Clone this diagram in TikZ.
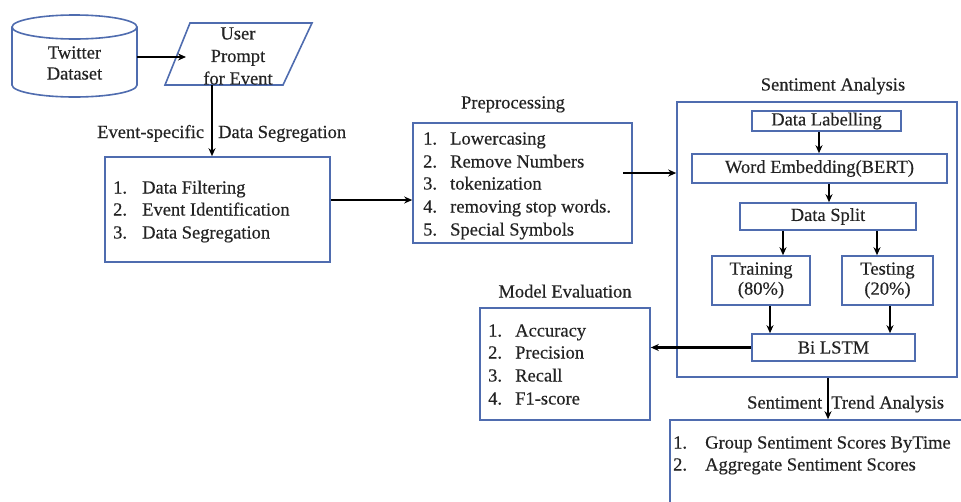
\documentclass[tikz,border=0pt]{standalone}
\usepackage{fontspec}
\setmainfont{Liberation Serif}[FakeBold=0.35]
\usetikzlibrary{arrows.meta}
\definecolor{bb}{RGB}{79,108,175}
\definecolor{tx}{RGB}{35,35,35}
\begin{document}
\begin{tikzpicture}[x=1pt,y=-1pt,
  font=\rmfamily\fontsize{18.5}{22}\selectfont, text=tx,
  box/.style={draw=bb, line width=1.6pt, rectangle, inner sep=0pt},
  arr/.style={draw=black, line width=2.2pt, -{Stealth[length=8pt,width=7pt]}},
  lbl/.style={anchor=base west, inner sep=0pt},
  ttl/.style={anchor=base, inner sep=0pt}]
\useasboundingbox (0,0) rectangle (961,501);

% Twitter dataset cylinder
\draw[bb, line width=1.6pt, fill=white] (12,27) -- (12,85)
  arc[start angle=180, end angle=360, x radius=62.5pt, y radius=12pt] -- (137,27);
\draw[bb, line width=1.6pt] (74.5,27) ellipse[x radius=62.5pt, y radius=12pt];
\node[inner sep=0pt, minimum width=125pt, minimum height=82pt] (tw) at (74.5,57) {};
\node[align=center, inner sep=0pt, font=\rmfamily\fontsize{18.5}{21}\selectfont] (twt) at (74.5,63) {Twitter\\Dataset};

% User prompt parallelogram
\draw[bb, line width=1.6pt] (190,23) -- (312,23) -- (283,85) -- (165,85) -- cycle;
\node[align=center, inner sep=0pt, font=\rmfamily\fontsize{18.5}{22.5}\selectfont] (up) at (238,56) {User\\Prompt\\for Event};
\coordinate (upin) at (186,57);
\coordinate (upbot) at (212,85);

% Event-specific box
\node[lbl] (segl1) at (97,138) {Event-specific};
\node[lbl] (segl2) at (218,138) {Data Segregation};
\node[box, minimum width=225pt, minimum height=105pt] (box1) at (217.5,209.5) {};
\node[lbl] (b1n1) at (113,193.5) {1.}; \node[lbl] (b1t1) at (142,193.5) {Data Filtering};
\node[lbl] (b1n2) at (113,215.5) {2.}; \node[lbl] (b1t2) at (142,215.5) {Event Identification};
\node[lbl] (b1n3) at (113,238.5) {3.}; \node[lbl] (b1t3) at (142,238.5) {Data Segregation};

% Preprocessing
\node[ttl] (pretl) at (513,108.5) {Preprocessing};
\node[box, minimum width=219pt, minimum height=120pt] (pre) at (522.5,183) {};
\node[lbl] (pn1) at (423,144.5) {1.}; \node[lbl] (pt1) at (450,144.5) {Lowercasing};
\node[lbl] (pn2) at (423,167.5) {2.}; \node[lbl] (pt2) at (450,167.5) {Remove Numbers};
\node[lbl] (pn3) at (423,189.5) {3.}; \node[lbl] (pt3) at (450,189.5) {tokenization};
\node[lbl] (pn4) at (423,212.5) {4.}; \node[lbl] (pt4) at (450,212.5) {removing stop words.};
\node[lbl] (pn5) at (423,235.5) {5.}; \node[lbl] (pt5) at (450,235.5) {Special Symbols};

% Sentiment analysis
\node[ttl] (satl) at (833,90.5) {Sentiment Analysis};
\node[box, minimum width=280pt, minimum height=275pt] (sa) at (817,239.5) {};
\node[box, minimum width=149pt, minimum height=20pt] (dl) at (826.5,121) {Data Labelling};
\node[box, minimum width=255pt, minimum height=29pt] (we) at (819.5,168.5) {Word Embedding(BERT)};
\node[box, minimum width=176pt, minimum height=27pt] (ds) at (828,216.5) {Data Split};
\node[box, minimum width=98pt, minimum height=49pt, align=center, font=\rmfamily\fontsize{18.5}{20}\selectfont] (tr) at (761,280.5) {Training\\(80\%)};
\node[box, minimum width=91pt, minimum height=49pt, align=center, font=\rmfamily\fontsize{18.5}{20}\selectfont] (te) at (887.5,280.5) {Testing\\(20\%)};
\node[box, minimum width=163pt, minimum height=27pt] (bl) at (833.5,347.5) {Bi LSTM};

% Model evaluation
\node[ttl] (metl) at (565,297.5) {Model Evaluation};
\node[box, minimum width=170pt, minimum height=112pt] (me) at (565,364) {};
\node[lbl] (mn1) at (488,336.5) {1.}; \node[lbl] (mt1) at (515,336.5) {Accuracy};
\node[lbl] (mn2) at (488,358.5) {2.}; \node[lbl] (mt2) at (515,358.5) {Precision};
\node[lbl] (mn3) at (488,381.5) {3.}; \node[lbl] (mt3) at (515,381.5) {Recall};
\node[lbl] (mn4) at (488,404.5) {4.}; \node[lbl] (mt4) at (515,404.5) {F1-score};

% Sentiment trend analysis
\node[lbl] (stl1) at (747,408.5) {Sentiment};
\node[lbl] (stl2) at (831,408.5) {Trend Analysis};
\node[box, minimum width=300pt, minimum height=90pt] (st) at (820,465) {};
\node[lbl] (sn1) at (673,448.5) {1.}; \node[lbl] (stt1) at (705,448.5) {Group Sentiment Scores ByTime};
\node[lbl] (sn2) at (673,470.5) {2.}; \node[lbl] (stt2) at (705,470.5) {Aggregate Sentiment Scores};

% helper coordinates
\coordinate (y200) at (0,200);
\coordinate (y173) at (0,173);
\coordinate (prestart) at (623,173);
\coordinate (x819) at (819,0);
\coordinate (x829) at (829,0);
\coordinate (x783) at (783,0);
\coordinate (x877) at (877,0);
\coordinate (x770) at (770,0);
\coordinate (x890) at (890,0);
\coordinate (x828) at (828,0);

% connectors
\draw[arr] (tw.east) -- (upin);
\draw[arr] (upbot) -- (upbot |- box1.north);
\draw[arr] (box1.east |- y200) -- (pre.west |- y200);
\draw[arr] (prestart) -- (sa.west |- y173);
\draw[arr] (dl.south -| x819) -- (we.north -| x819);
\draw[arr] (we.south -| x829) -- (ds.north -| x829);
\draw[arr] (ds.south -| x783) -- (tr.north -| x783);
\draw[arr] (ds.south -| x877) -- (te.north -| x877);
\draw[arr] (tr.south -| x770) -- (bl.north -| x770);
\draw[arr] (te.south -| x890) -- (bl.north -| x890);
\draw[arr] (bl.west) -- (bl.west -| me.east);
\draw[arr] (sa.south -| x828) -- (st.north -| x828);
\end{tikzpicture}
\end{document}
